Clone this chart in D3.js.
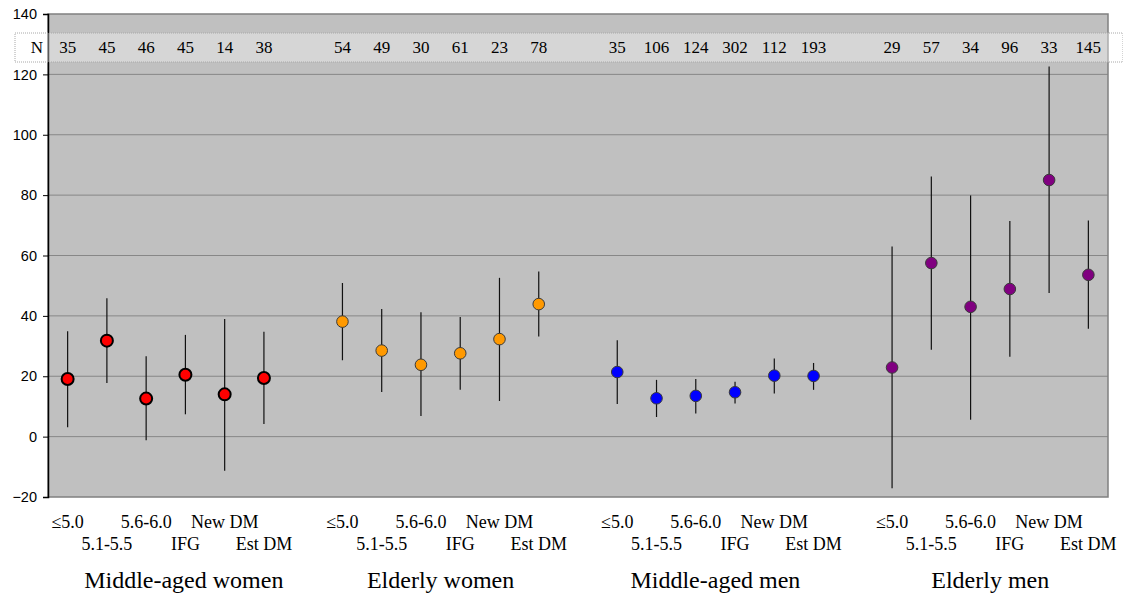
<!DOCTYPE html>
<html><head><meta charset="utf-8">
<script src="https://cdn.jsdelivr.net/npm/d3@7"></script>
<style>body{margin:0;background:#fff;}svg{display:block;}</style>
</head><body>
<svg id="chart" width="1123" height="597"></svg>
<script>
const groups = ["Middle-aged women", "Elderly women", "Middle-aged men", "Elderly men"];
const categories = ["≤5.0", "5.1-5.5", "5.6-6.0", "IFG", "New DM", "Est DM"];
const colors = ["#ff0000", "#ff9900", "#0000ff", "#800080"];
const nCounts = [
  [35, 45, 46, 45, 14, 38],
  [54, 49, 30, 61, 23, 78],
  [35, 106, 124, 302, 112, 193],
  [29, 57, 34, 96, 33, 145]
];
const means = [
  [19.1, 31.8, 12.6, 20.5, 14.0, 19.4],
  [38.1, 28.5, 23.8, 27.6, 32.3, 43.9],
  [21.4, 12.7, 13.5, 14.7, 20.2, 20.1],
  [22.9, 57.5, 43.0, 48.9, 85.0, 53.6]
];
const upper = [
  [34.9, 45.8, 26.6, 33.7, 39.0, 34.7],
  [50.9, 42.3, 41.2, 39.6, 52.6, 54.7],
  [31.9, 18.8, 19.1, 18.2, 25.9, 24.4],
  [63.0, 86.2, 79.9, 71.4, 122.6, 71.6]
];
const lower = [
  [3.1, 17.8, -1.2, 7.4, -11.3, 4.2],
  [25.3, 14.8, 6.8, 15.5, 11.8, 33.2],
  [10.8, 6.5, 7.7, 11.0, 14.3, 15.5],
  [-17.1, 28.8, 5.6, 26.5, 47.6, 35.7]
];
const yTicks = [-20, 0, 20, 40, 60, 80, 100, 120, 140];

const svg = d3.select("#chart");
const L = 48, R = 1108, T = 14, B = 497;
const per = categories.length + 1;
const nSlots = groups.length * per - 1;
const x = d3.scaleBand().domain(d3.range(nSlots)).range([L, R]).paddingInner(0).paddingOuter(0);
const y = d3.scaleLinear().domain([-20, 140]).range([B, T]);
const cx = (g, i) => x(g * per + i) + x.bandwidth() / 2;
const serif = "'Liberation Serif', 'Times New Roman', serif";

// plot background
svg.append("rect").attr("x", L).attr("y", T).attr("width", R - L).attr("height", B - T).attr("fill", "#c0c0c0");

// gridlines
svg.append("g").selectAll("line").data(yTicks.filter(t => t > -20 && t < 140)).join("line")
  .attr("x1", L).attr("x2", R).attr("y1", d => y(d)).attr("y2", d => y(d))
  .attr("stroke", "#878787").attr("stroke-width", 1);

// border
svg.append("rect").attr("x", L).attr("y", T).attr("width", R - L).attr("height", B - T)
  .attr("fill", "none").attr("stroke", "#808080").attr("stroke-width", 1.5);

// y axis
const yAxis = svg.append("g").attr("transform", `translate(${L},0)`)
  .call(d3.axisLeft(y).tickValues(yTicks).tickSize(5).tickPadding(6).tickFormat(d3.format("d")));
yAxis.select(".domain").attr("stroke", "#000").attr("stroke-width", 1.5);
yAxis.selectAll(".tick line").attr("stroke", "#000");
yAxis.selectAll("text").attr("font-family", "'Liberation Sans', Arial, sans-serif").attr("font-size", 14.5).attr("fill", "#000");

// N band
const bandTop = y(140) + 19, bandH = 29;
svg.append("rect").attr("x", 15).attr("y", bandTop).attr("width", 1123 - 15).attr("height", bandH)
  .attr("fill", "#ffffff").attr("fill-opacity", 0.35)
  .attr("stroke", "#a8a8a8").attr("stroke-width", 1).attr("stroke-dasharray", "1,1");
svg.append("text").attr("x", 37).attr("y", bandTop + bandH / 2).attr("dy", "0.35em")
  .attr("text-anchor", "middle").attr("font-family", serif)
  .attr("font-size", 17).text("N");

const pts = [];
groups.forEach((g, gi) => categories.forEach((c, i) => {
  pts.push({gi, i, n: nCounts[gi][i], m: means[gi][i], hi: upper[gi][i], lo: lower[gi][i]});
}));

svg.append("g").selectAll("text").data(pts).join("text")
  .attr("x", d => cx(d.gi, d.i)).attr("y", bandTop + bandH / 2).attr("dy", "0.35em")
  .attr("text-anchor", "middle").attr("font-family", serif)
  .attr("font-size", 17).text(d => d.n);

// error bars
svg.append("g").selectAll("line").data(pts).join("line")
  .attr("x1", d => cx(d.gi, d.i)).attr("x2", d => cx(d.gi, d.i))
  .attr("y1", d => y(d.hi)).attr("y2", d => y(d.lo))
  .attr("stroke", "#111").attr("stroke-width", 1.2);

// markers
svg.append("g").selectAll("circle").data(pts).join("circle")
  .attr("cx", d => cx(d.gi, d.i)).attr("cy", d => y(d.m))
  .attr("r", d => d.gi === 0 ? 6 : 5.8)
  .attr("fill", d => colors[d.gi])
  .attr("stroke", d => d.gi === 0 ? "#000" : "#3a3a3a")
  .attr("stroke-width", d => d.gi === 0 ? 2 : 1);

// category labels
svg.append("g").selectAll("text").data(pts).join("text")
  .attr("x", d => cx(d.gi, d.i)).attr("y", d => d.i % 2 === 0 ? 528 : 550)
  .attr("text-anchor", "middle").attr("font-family", serif).attr("font-size", 18)
  .text(d => categories[d.i]);

// group labels
svg.append("g").selectAll("text").data(groups).join("text")
  .attr("x", (d, gi) => (cx(gi, 0) + cx(gi, categories.length - 1)) / 2 + (gi === 0 ? 18 : 0))
  .attr("y", 588).attr("text-anchor", "middle").attr("font-family", serif).attr("font-size", 24)
  .text(d => d);
</script>
</body></html>
